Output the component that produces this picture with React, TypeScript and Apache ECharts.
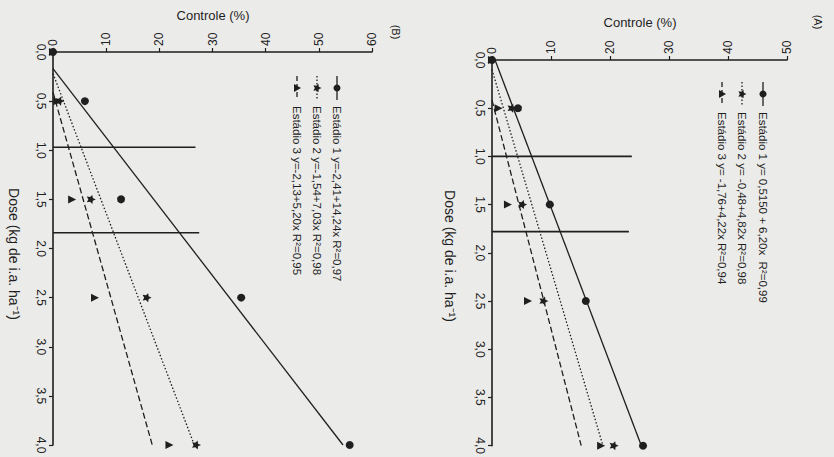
import React, { useEffect, useRef } from "react";
import * as echarts from "echarts";

// ---- data ----
const doses = [0, 0.5, 1.5, 2.5, 4.0];

// Panel B (left)
const bStage1 = [0, 6.0, 12.8, 35.4, 55.8];
const bStage2 = [0, 1.3, 7.2, 17.7, 27.0];
const bStage3 = [0, 0.8, 3.6, 7.9, 21.9];
const bIntercepts = [-2.41, -1.54, -2.13];
const bSlopes = [14.24, 7.03, 5.2];
const bLegend = [
  "Estádio 1 y=-2,41+14,24x R²=0,97",
  "Estádio 2 y=-1,54+7,03x R²=0,98",
  "Estádio 3 y=-2,13+5,20x R²=0,95",
];
const bRefDoses = [0.97, 1.84];
const bRefLengths = [26.8, 27.5];

// Panel A (right)
const aStage1 = [0, 4.4, 9.8, 15.9, 25.6];
const aStage2 = [0, 3.4, 5.2, 8.8, 20.7];
const aStage3 = [0, 1.1, 2.7, 6.1, 18.5];
const aIntercepts = [0.515, -0.48, -1.76];
const aSlopes = [6.2, 4.82, 4.22];
const aLegend = [
  "Estádio 1 y= 0,5150 + 6,20x  R²=0,99",
  "Estádio 2 y= -0,48+4,82x R²=0,98",
  "Estádio 3 y= -1,76+4,22x R²=0,94",
];
const aRefDoses = [1.0, 1.78];
const aRefLengths = [23.7, 23.2];

const doseMax = 4.0;

const INK = "#1f1f1f";
const FONT = "Liberation Sans, Arial, sans-serif";
const STAR =
  "path://M0,-10 L2.9,-4 L9.5,-3.1 L4.8,1.5 L5.9,8.1 L0,5 L-5.9,8.1 L-4.8,1.5 L-9.5,-3.1 L-2.9,-4 Z";
const symbols = ["circle", STAR, "triangle"];
const symbolSizes = [8, 9, 8];
const lineTypes: any[] = ["solid", [1.5, 2], [6, 3]];

function buildSeries(gi: number, stages: number[][], icp: number[], slp: number[], refD: number[], refL: number[]) {
  const s: any[] = [];
  stages.forEach((vals, k) => {
    s.push({
      type: "scatter",
      xAxisIndex: gi,
      yAxisIndex: gi,
      symbol: symbols[k],
      symbolSize: symbolSizes[k],
      symbolRotate: -90,
      itemStyle: { color: INK, opacity: 1 },
      data: doses.map((d, i) => [vals[i], d]),
      z: 5,
    });
    const start = Math.max(0, -icp[k] / slp[k]);
    s.push({
      type: "line",
      xAxisIndex: gi,
      yAxisIndex: gi,
      showSymbol: false,
      symbol: "none",
      lineStyle: { color: INK, width: 1.3, type: lineTypes[k] },
      data: [
        [icp[k] + slp[k] * start, start],
        [icp[k] + slp[k] * doseMax, doseMax],
      ],
    });
  });
  refD.forEach((d, i) => {
    s.push({
      type: "line",
      xAxisIndex: gi,
      yAxisIndex: gi,
      symbol: "none",
      lineStyle: { color: INK, width: 1.6 },
      data: [
        [0, d],
        [refL[i], d],
      ],
    });
  });
  return s;
}

function legendGraphic(xs: number[], y0: number, labels: string[]) {
  return labels.map((lab, k) => {
    const children: any[] = [
      {
        type: "line",
        shape: { x1: 0, y1: 0, x2: 24, y2: 0 },
        style: {
          stroke: INK,
          lineWidth: 1.3,
          lineDash: k === 0 ? null : k === 1 ? [1.5, 2] : [5, 3],
        },
      },
    ];
    if (k === 0) children.push({ type: "circle", shape: { cx: 12, cy: 0, r: 3.5 }, style: { fill: INK } });
    if (k === 1)
      children.push({
        type: "polygon",
        shape: {
          points: [
            [12, -4.5], [13.3, -1.8], [16.3, -1.4], [14.2, 0.7], [14.7, 3.6],
            [12, 2.2], [9.3, 3.6], [9.8, 0.7], [7.7, -1.4], [10.7, -1.8],
          ],
        },
        style: { fill: INK },
      });
    if (k === 2)
      children.push({
        type: "polygon",
        shape: { points: [[12, -4], [16, 3], [8, 3]] },
        style: { fill: INK },
      });
    children.push({
      type: "text",
      x: 30,
      y: 0,
      style: {
        text: lab,
        fill: INK,
        font: `11.5px ${FONT}`,
        align: "left",
        verticalAlign: "middle",
        textAlign: "left",
        textVerticalAlign: "middle",
      },
    });
    return { type: "group", x: xs[k], y: y0, rotation: -Math.PI / 2, children };
  });
}

function rotText(x: number, y: number, text: string, size: number) {
  return {
    type: "text",
    x,
    y,
    rotation: -Math.PI / 2,
    style: {
      text,
      fill: INK,
      font: `${size}px ${FONT}`,
      align: "center",
      verticalAlign: "middle",
      textAlign: "center",
      textVerticalAlign: "middle",
    },
  };
}

function plainText(x: number, y: number, text: string, size: number) {
  return {
    type: "text",
    x,
    y,
    style: {
      text,
      fill: INK,
      font: `${size}px ${FONT}`,
      align: "center",
      verticalAlign: "middle",
      textAlign: "center",
      textVerticalAlign: "middle",
    },
  };
}

export default function App() {
  const ref = useRef<HTMLDivElement>(null);
  useEffect(() => {
    if (!ref.current) return;
    const chart = echarts.init(ref.current, null, { renderer: "svg" });
    const xAxisBase = (gi: number, max: number) => ({
      type: "value",
      gridIndex: gi,
      position: "top",
      min: 0,
      max,
      interval: 10,
      axisLine: { show: true, onZero: false, lineStyle: { color: INK, width: 1.6 } },
      axisTick: { show: true, length: 4, lineStyle: { color: INK, width: 1.2 } },
      axisLabel: {
        rotate: -90,
        color: INK,
        fontSize: 12,
        fontFamily: FONT,
        margin: 6,
        formatter: (v: number) => String(Math.round(v)),
      },
      splitLine: { show: false },
    });
    const yAxisBase = (gi: number) => ({
      type: "value",
      gridIndex: gi,
      inverse: true,
      min: 0,
      max: doseMax,
      interval: 0.5,
      axisLine: { show: true, onZero: false, lineStyle: { color: INK, width: 1.6 } },
      axisTick: { show: true, length: 4, lineStyle: { color: INK, width: 1.2 } },
      axisLabel: {
        rotate: -90,
        color: INK,
        fontSize: 12,
        fontFamily: FONT,
        margin: 6,
        formatter: (v: number) => v.toFixed(1).replace(".", ","),
      },
      splitLine: { show: false },
    });
    chart.setOption({
      animation: false,
      backgroundColor: "#ebebe9",
      grid: [
        { left: 53, top: 52, width: 319, height: 393 },
        { left: 492, top: 60, width: 295, height: 387 },
      ],
      xAxis: [xAxisBase(0, 60), xAxisBase(1, 50)],
      yAxis: [yAxisBase(0), yAxisBase(1)],
      series: [
        ...buildSeries(0, [bStage1, bStage2, bStage3], bIntercepts, bSlopes, bRefDoses, bRefLengths),
        ...buildSeries(1, [aStage1, aStage2, aStage3], aIntercepts, aSlopes, aRefDoses, aRefLengths),
      ],
      graphic: [
        plainText(213, 15, "Controle (%)", 13),
        plainText(640, 22, "Controle (%)", 13),
        rotText(14, 254, "Dose (kg de i.a. ha⁻¹)", 14),
        rotText(450, 256, "Dose (kg de i.a. ha⁻¹)", 14),
        rotText(396, 32, "(B)", 11),
        rotText(818, 22, "(A)", 11),
        ...legendGraphic([337, 317, 297], 76, bLegend),
        ...legendGraphic([763, 742, 722], 82, aLegend),
      ],
    });
    return () => chart.dispose();
  }, []);
  return (
    <div
      ref={ref}
      style={{ position: "fixed", left: 0, top: 0, width: 834, height: 457 }}
    />
  );
}
